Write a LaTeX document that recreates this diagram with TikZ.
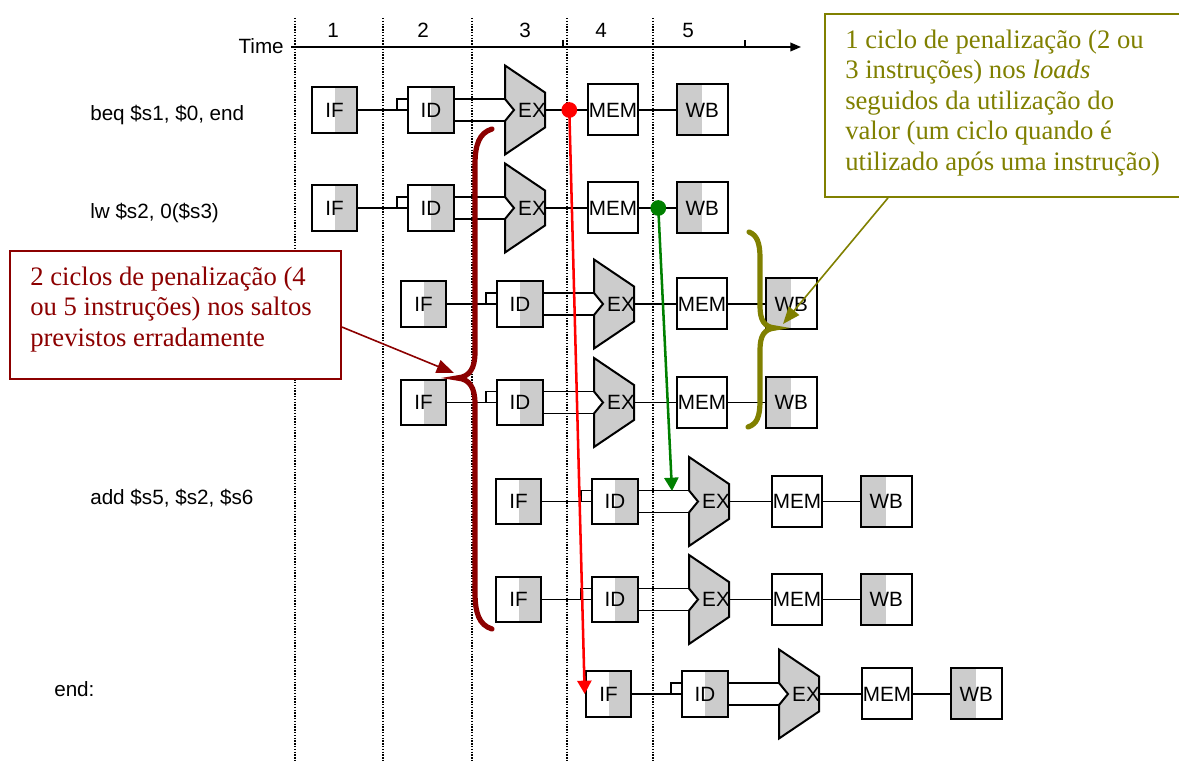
\documentclass[tikz,border=0pt]{standalone}
\usepackage{fontspec}
\setmainfont{Liberation Serif}
\setsansfont{Liberation Sans}
\usetikzlibrary{calc,arrows.meta}

\definecolor{stagegray}{RGB}{204,204,204}
\definecolor{penred}{RGB}{140,0,0}
\definecolor{penolive}{RGB}{128,128,0}
\definecolor{fwdgreen}{RGB}{0,128,0}

% One instruction flowing through the five pipeline stages.
% #1 name prefix, #2 horizontal shift, #3 vertical centre of the row
\newcommand{\pipestage}[3]{%
  \begin{scope}[shift={(#2,#3)}]
    \node[stagebox, rshade] (#1if) at (334.5,0) {IF};
    \node[stagebox, rshade] (#1id) at (431,0) {ID};
    \coordinate (#1exn) at (505,-11);
    \coordinate (#1exs) at (505,11);
    \coordinate (#1exr) at (545,0);
    \draw[alu] (505,-44.5) -- (545,-17.5) -- (545,17.5) -- (505,44.5)
      -- (#1exs) -- (514,0) -- (#1exn) -- cycle;
    \node[stagetext] (#1ex) at (532,0) {EX};
    \node[bigbox] (#1mem) at (613,0) {MEM};
    \node[bigbox, lshade] (#1wb) at (702.2,0) {WB};
    \coordinate (#1na) at (397.2,0);
    \coordinate (#1nb) at (408.2,-11);
    \draw[wire] (#1if) -- (#1id);
    \draw[wire] (#1na) |- (#1nb);
    \draw[wire] (#1id.east |- #1exn) -- (#1exn);
    \draw[wire] (#1id.east |- #1exs) -- (#1exs);
    \draw[wire] (#1exr) -- (#1mem);
    \draw[wire] (#1mem) -- (#1wb);
  \end{scope}}

\begin{document}
\begin{tikzpicture}[x=0.75pt,y=-0.75pt,
  wire/.style={line width=1.35pt},
  sffont/.style={font=\sffamily\fontsize{15.5}{18}\selectfont},
  stagebox/.style={draw, line width=1.5pt, fill=white, inner sep=0, sffont,
    minimum width=34.2pt, minimum height=33.9pt},
  bigbox/.style={stagebox, minimum width=38.1pt, minimum height=38.25pt},
  rshade/.style={path picture={\fill[stagegray] (path picture bounding box.north)
    rectangle (path picture bounding box.south east);}},
  lshade/.style={path picture={\fill[stagegray] (path picture bounding box.north west)
    rectangle (path picture bounding box.south);}},
  alu/.style={draw, line width=1.5pt, fill=stagegray, line join=miter},
  stagetext/.style={sffont, inner sep=0},
  instr/.style={sffont, anchor=base west, inner sep=0},
  cyclenum/.style={sffont, inner sep=0},
  dotline/.style={line width=1.5pt, dash pattern=on 1pt off 1.1pt},
  note/.style={anchor=north west, inner sep=0, align=left,
    font=\fontsize{20}{22.8}\selectfont},
  pointer/.style={line width=1.2pt, -{Triangle[length=13pt,width=10pt]}},
  hazard/.style={line width=1.9pt, -{Triangle[length=10pt,width=10.5pt]}},
  brace/.style={line width=3.9pt, line cap=round}]

\useasboundingbox (0,0) rectangle (1179,762);

% clock-cycle boundaries
\foreach \cx in {295,383,472,567,653}
  \draw[dotline] (\cx,18) -- (\cx,762);

% time axis
\node[stagetext, anchor=base east] (timelbl) at (284,54) {Time};
\coordinate (axstart) at (291,47);
\coordinate (axend) at (801,47);
\draw[line width=1.2pt, -{Triangle[length=8pt,width=6.5pt]}] (axstart) -- (axend);
\coordinate (tick1) at (563,47);
\coordinate (tick2) at (745,47);
\draw[line width=1pt] (tick1) -- ++(0,-7);
\draw[line width=1pt] (tick2) -- ++(0,-7);
\node[cyclenum] (n1) at (333,30) {1};
\node[cyclenum] (n2) at (423,30) {2};
\node[cyclenum] (n3) at (525,30) {3};
\node[cyclenum] (n4) at (601,30) {4};
\node[cyclenum] (n5) at (688,30) {5};

% instruction labels
\node[instr] (ibeq) at (90,121) {beq \$s1, \$0, end};
\node[instr] (ilw) at (90,219) {lw \$s2, 0(\$s3)};
\node[instr] (iadd) at (90,505) {add \$s5, \$s2, \$s6};
\node[instr] (iend) at (54,696) {end:};

% pipeline rows
\pipestage{ra}{0}{110}
\pipestage{rb}{0}{208}
\pipestage{rc}{89}{304}
\pipestage{rd}{89}{402.5}
\pipestage{re}{184}{501.5}
\pipestage{rf}{184}{599.5}
\pipestage{rg}{274}{694}

% braces grouping the penalty slots
\draw[brace, penred] (492,129) .. controls (479,133) and (475,145) .. (475,165)
  -- (475,352) .. controls (475,368) and (470,377) .. (457,378)
  .. controls (470,379) and (475,388) .. (475,404)
  -- (475,592) .. controls (475,613) and (479,625) .. (492,629);
\draw[brace, penolive] (749,232) .. controls (757,235) and (760,243) .. (760,258)
  -- (760,306) .. controls (760,320) and (764,327) .. (775,328)
  .. controls (764,329) and (760,336) .. (760,350)
  -- (760,400) .. controls (760,417) and (757,424) .. (748,427);

% note on branch penalties
\node[draw=penred, fill=white, line width=1.4pt, anchor=north west, minimum width=248pt,
  minimum height=96.2pt, inner sep=0] (redbox) at (9.3,250) {};
\node[note, text=penred] (redtext) at (30,266.5)
  {2 ciclos de penalização (4\\ou 5 instruções) nos saltos\\previstos erradamente};
\coordinate (rby) at (0,327);
\coordinate (rbtip) at (454,373);
\draw[pointer, penred] (redbox.east |- rby) -- (rbtip);

% note on load-use penalties
\node[draw=penolive, fill=white, line width=1.4pt, anchor=north west, minimum width=271pt,
  minimum height=137.5pt, inner sep=0] (olivebox) at (824,12.7) {};
\node[note, text=penolive] (olivetext) at (845,29.8)
  {1 ciclo de penalização (2 ou\\3 instruções) nos \textit{loads}\\seguidos da utilização do\\valor (um ciclo quando é\\utilizado após uma instrução)};
\coordinate (obx) at (888,0);
\coordinate (obtip) at (783,324);
\draw[pointer, penolive] (olivebox.south -| obx) -- (obtip);

% branch outcome and load forwarding
\node[circle, fill=red, inner sep=0, minimum size=11.8pt] (bdot) at (569.3,110) {};
\draw[hazard, red] (bdot.center) -- (rgif.west);
\node[circle, fill=fwdgreen, inner sep=0, minimum size=11.8pt] (gdot) at (658.3,208) {};
\coordinate (gtip) at (672,491);
\draw[hazard, fwdgreen] (gdot.center) -- (gtip);

\end{tikzpicture}
\end{document}
